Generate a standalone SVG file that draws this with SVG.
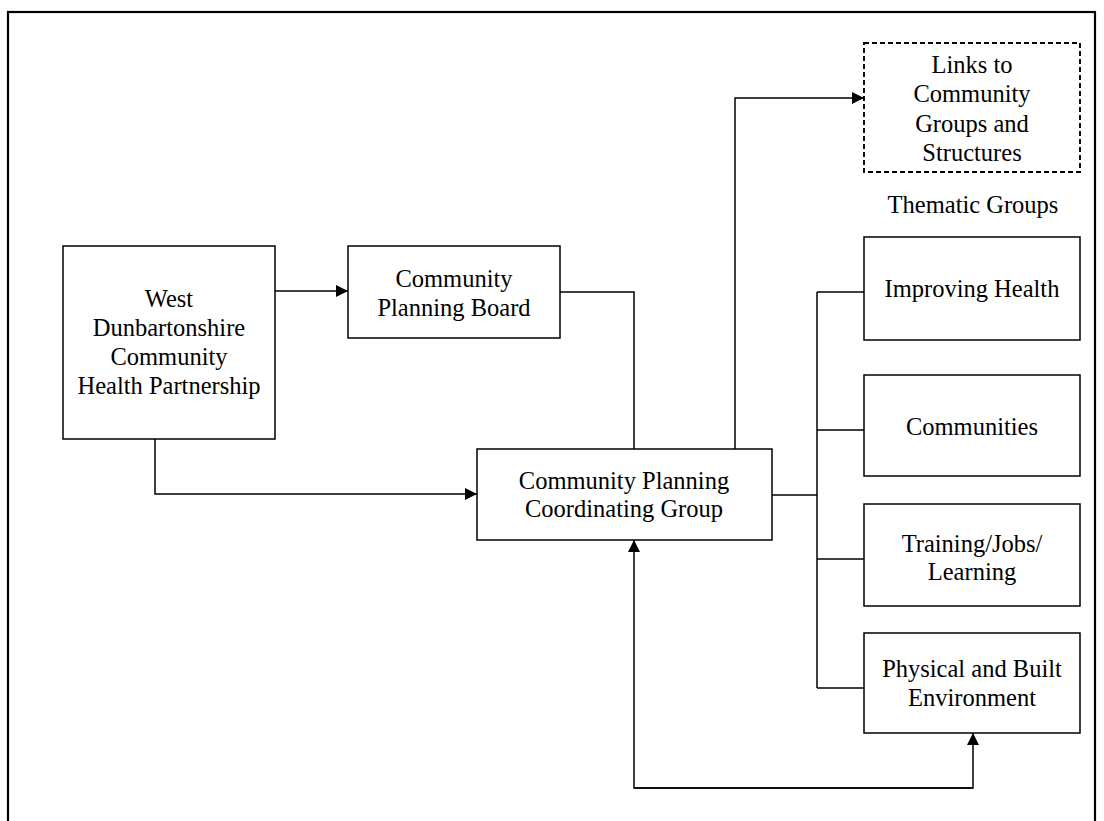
<svg xmlns="http://www.w3.org/2000/svg" width="1104" height="821" viewBox="0 0 1104 821">
<style>
.box{fill:#fff;stroke:#000;stroke-width:1.5}
.dash{fill:#fff;stroke:#000;stroke-width:2;stroke-dasharray:5 3}
.ln{fill:none;stroke:#000;stroke-width:1.5}
text{font-family:"Liberation Serif","Times New Roman",serif;font-size:24.5px;fill:#000;text-anchor:middle}
</style>
<defs>
<marker id="ah" markerWidth="12" markerHeight="12" refX="12" refY="6" orient="auto" markerUnits="userSpaceOnUse">
<path d="M0,0 L12,6 L0,12 Z" fill="#000"/>
</marker>
</defs>
<rect width="1104" height="821" fill="#fff"/>
<rect x="8" y="12" width="1087" height="860" fill="none" stroke="#000" stroke-width="2.2"/>
<g id="connectors">
<path class="ln" d="M275,291 H348" marker-end="url(#ah)"/>
<path class="ln" d="M155,439 V494 H477" marker-end="url(#ah)"/>
<path class="ln" d="M560,292 H634 V449"/>
<path class="ln" d="M735,449 V98 H864" marker-end="url(#ah)"/>
<path class="ln" d="M772,495 H817"/>
<path class="ln" d="M817,292 V688"/>
<path class="ln" d="M817,292 H864"/>
<path class="ln" d="M817,430 H864"/>
<path class="ln" d="M817,559 H864"/>
<path class="ln" d="M817,688 H864"/>
<path class="ln" d="M973,788 H634 V540" marker-end="url(#ah)"/>
<path class="ln" d="M634,788 H973 V733" marker-end="url(#ah)"/>
</g>
<g id="wdchp">
<rect class="box" x="63" y="246" width="212" height="193"/>
<text x="169" y="307">West</text>
<text x="169" y="336">Dunbartonshire</text>
<text x="169" y="365">Community</text>
<text x="169" y="394">Health Partnership</text>
</g>
<g id="cpb">
<rect class="box" x="348" y="246" width="212" height="92"/>
<text x="454" y="287">Community</text>
<text x="454" y="316">Planning Board</text>
</g>
<g id="cpcg">
<rect class="box" x="477" y="449" width="295" height="91"/>
<text x="624" y="489">Community Planning</text>
<text x="624" y="517">Coordinating Group</text>
</g>
<g id="links">
<rect class="dash" x="864" y="43" width="216" height="129"/>
<text x="972" y="73">Links to</text>
<text x="972" y="102">Community</text>
<text x="972" y="132">Groups and</text>
<text x="972" y="161">Structures</text>
</g>
<g id="thematic-label">
<text x="973" y="213">Thematic Groups</text>
</g>
<g id="improving-health">
<rect class="box" x="864" y="237" width="216" height="103"/>
<text x="972" y="297">Improving Health</text>
</g>
<g id="communities">
<rect class="box" x="864" y="375" width="216" height="101"/>
<text x="972" y="435">Communities</text>
</g>
<g id="training">
<rect class="box" x="864" y="504" width="216" height="102"/>
<text x="972" y="552">Training/Jobs/</text>
<text x="972" y="580">Learning</text>
</g>
<g id="physical">
<rect class="box" x="864" y="633" width="216" height="100"/>
<text x="972" y="677">Physical and Built</text>
<text x="972" y="706">Environment</text>
</g>
</svg>
